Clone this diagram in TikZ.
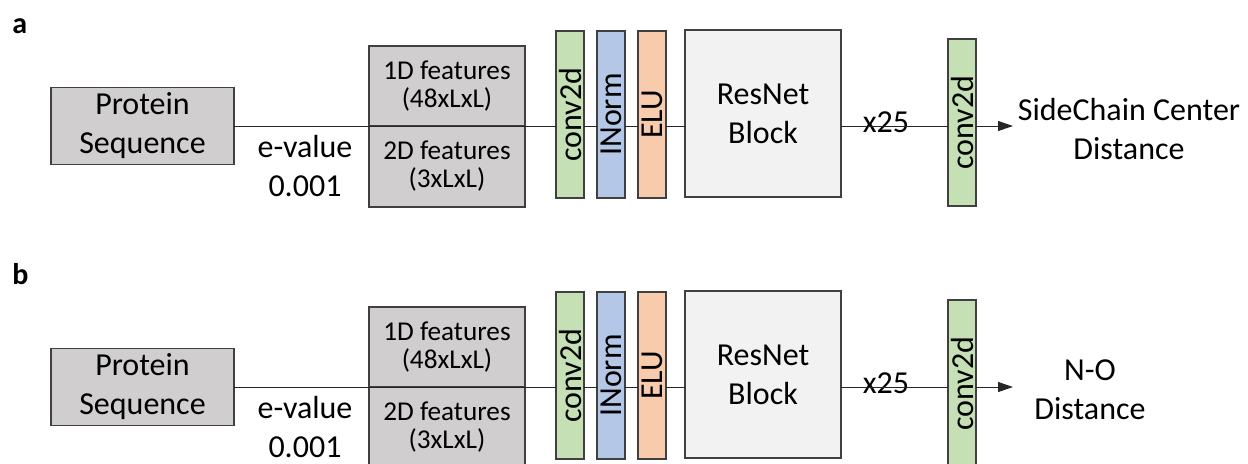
\documentclass[tikz,border=0pt]{standalone}
\usepackage{fontspec}
\setmainfont{Carlito}
\usepackage{graphicx}
\usepackage{tikz}
\usetikzlibrary{arrows.meta,positioning,calc}
\definecolor{nnLine}{RGB}{64,64,64}
\definecolor{nnGray}{RGB}{208,206,206}
\definecolor{nnLight}{RGB}{242,242,242}
\definecolor{nnGreen}{RGB}{197,224,180}
\definecolor{nnBlue}{RGB}{180,199,231}
\definecolor{nnOrange}{RGB}{248,203,173}

\begin{document}
\begin{tikzpicture}[
  x=0.5pt, y=-0.5pt,
  font=\fontsize{16}{19.5}\selectfont,
  blk/.style={draw=nnLine, line width=0.75pt, inner sep=0pt, outer sep=0pt, align=center},
  feat/.style={blk, fill=nnGray, minimum width=78pt, font=\fontsize{13.6}{14}\selectfont},
  layer/.style={blk, minimum width=14pt, minimum height=83.5pt},
  resblk/.style={blk, fill=nnLight, minimum width=78pt, minimum height=83.5pt},
  wire/.style={draw=black!85, line width=0.5pt},
  plbl/.style={font=\fontsize{15}{18}\selectfont\bfseries, anchor=base west, inner sep=0pt},
  txt/.style={inner sep=0pt, align=center}
]
\useasboundingbox (0,0) rectangle (1248,463);
\clip (0,0) rectangle (1248,463);

%============ a: side chain centre ============
\begin{scope}[shift={(0,0)}]
  \node[plbl] (la) at (12,33) {a};
  \node[blk, fill=nnGray, minimum width=91.5pt, minimum height=38.5pt] (prota) at (142.5,126) {Protein\\Sequence};
  \node[txt] (eva) at (305,166) {e-value\\0.001};
  % feature stack
  \node[feat, minimum height=40pt] (f1a) at (447,86) {1D features\\(48xLxL)};
  \node[feat, minimum height=40.5pt, below=0pt of f1a] (f2a) {2D features\\(3xLxL)};
  % layers
  \node[layer, fill=nnGreen] (c1a) at (570,114.5) {\rotatebox{90}{conv2d}};
  \node[layer, fill=nnBlue] (na) at (611,114.5) {\rotatebox{90}{INorm}};
  \node[layer, fill=nnOrange] (ea) at (652,114.5) {\rotatebox{90}{ELU}};
  \node[resblk] (resa) at (763,113.5) {ResNet\\Block};
  \node[layer, fill=nnGreen] (c2a) at (962,122.5) {\rotatebox{90}{conv2d}};
  \node[txt, anchor=base] (xa) at (886,132) {x25};
  \coordinate (enda) at (1013,126);
  \node[txt] (outa) at (1129,128.5) {SideChain Center\\Distance};
  % wires
  \draw[wire] (prota.east) -- (prota.east -| c1a.west);
  \draw[wire] (prota.east -| c1a.east) -- (prota.east -| na.west);
  \draw[wire] (prota.east -| na.east) -- (prota.east -| ea.west);
  \draw[wire] (prota.east -| ea.east) -- (prota.east -| resa.west);
  \draw[wire] (prota.east -| resa.east) -- (prota.east -| c2a.west);
  \draw[wire, -{Triangle[length=7.5pt,width=5pt]}] (prota.east -| c2a.east) -- (enda);
\end{scope}

%============ b: N-O ============
\begin{scope}[shift={(0,261)}]
  \node[plbl] (lb) at (12,23) {b};
  \node[blk, fill=nnGray, minimum width=91.5pt, minimum height=38.5pt] (protb) at (142.5,126) {Protein\\Sequence};
  \node[txt] (evb) at (305,166) {e-value\\0.001};
  % feature stack
  \node[feat, minimum height=40pt] (f1b) at (447,86) {1D features\\(48xLxL)};
  \node[feat, minimum height=40.5pt, below=0pt of f1b] (f2b) {2D features\\(3xLxL)};
  % layers
  \node[layer, fill=nnGreen] (c1b) at (570,114.5) {\rotatebox{90}{conv2d}};
  \node[layer, fill=nnBlue] (nb) at (611,114.5) {\rotatebox{90}{INorm}};
  \node[layer, fill=nnOrange] (eb) at (652,114.5) {\rotatebox{90}{ELU}};
  \node[resblk] (resb) at (763,113.5) {ResNet\\Block};
  \node[layer, fill=nnGreen] (c2b) at (962,122.5) {\rotatebox{90}{conv2d}};
  \node[txt, anchor=base] (xb) at (886,132) {x25};
  \coordinate (endb) at (1013,126);
  \node[txt] (outb) at (1090,128.5) {N-O\\Distance};
  % wires
  \draw[wire] (protb.east) -- (protb.east -| c1b.west);
  \draw[wire] (protb.east -| c1b.east) -- (protb.east -| nb.west);
  \draw[wire] (protb.east -| nb.east) -- (protb.east -| eb.west);
  \draw[wire] (protb.east -| eb.east) -- (protb.east -| resb.west);
  \draw[wire] (protb.east -| resb.east) -- (protb.east -| c2b.west);
  \draw[wire, -{Triangle[length=7.5pt,width=5pt]}] (protb.east -| c2b.east) -- (endb);
\end{scope}
\end{tikzpicture}
\end{document}
